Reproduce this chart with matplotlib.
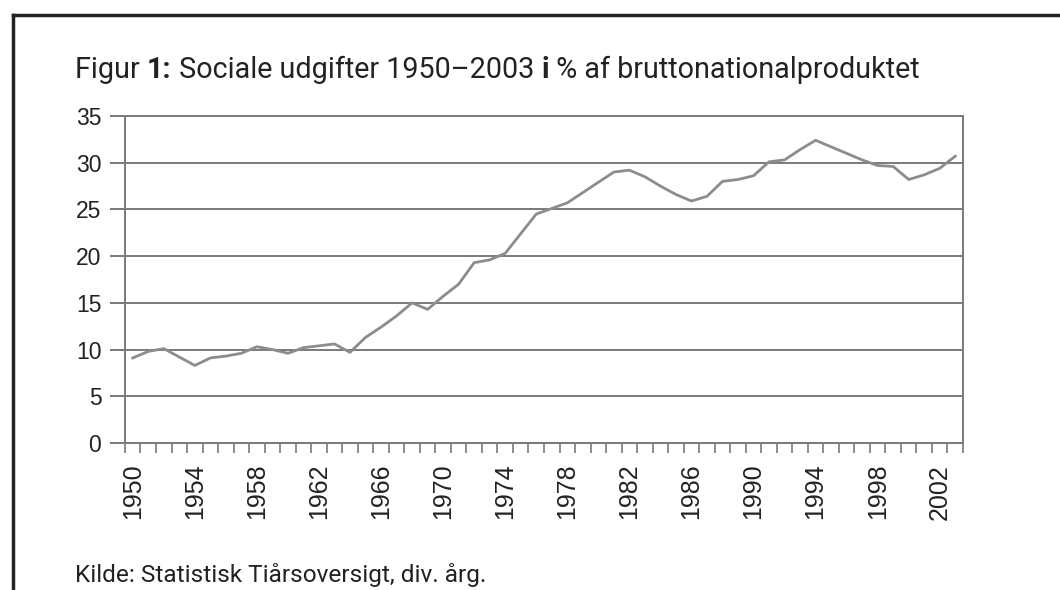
import matplotlib
matplotlib.use("Agg")
import matplotlib.pyplot as plt
from matplotlib.lines import Line2D
from matplotlib.ticker import FixedLocator

# Sociale udgifter i % af BNP
years = list(range(1950, 2004))
values = [
    9.1, 9.8, 10.1, 9.2, 8.3, 9.1, 9.3, 9.6, 10.3, 10.0,   # 1950-1959
    9.6, 10.2, 10.4, 10.6, 9.7, 11.3, 12.4, 13.6, 15.0, 14.3,  # 1960-1969
    15.7, 17.0, 19.3, 19.6, 20.3, 22.4, 24.5, 25.1, 25.7, 26.8,  # 1970-1979
    27.9, 29.0, 29.2, 28.5, 27.5, 26.6, 25.9, 26.4, 28.0, 28.2,  # 1980-1989
    28.6, 30.1, 30.3, 31.4, 32.4, 31.7, 31.0, 30.3, 29.7, 29.6,  # 1990-1999
    28.2, 28.7, 29.4, 30.7,                                      # 2000-2003
]
label_years = list(range(1950, 2003, 4))
y_ticks = [0, 5, 10, 15, 20, 25, 30, 35]

# titel i stykker: (tekst, fed?)
title_parts = [
    ("Figur ", False),
    ("1:", True),
    (" Sociale udgifter 1950\u20132003 ", False),
    ("i", True),
    (" % af bruttonationalproduktet", False),
]
source = "Kilde: Statistisk Tiårsoversigt, div. årg."

font = ["Roboto", "DejaVu Sans"]
grey = "#7a7a7a"
ink = "#222222"

fig = plt.figure(figsize=(10.6, 5.9), dpi=100)
ax = fig.add_axes([0.1179, 0.2492, 0.7906, 0.5542])

ax.plot(years, values, color="#8c8c8c", lw=2.0, zorder=3)

ax.set_xlim(1949.5, 2003.5)
ax.set_ylim(0, 35)

ax.set_yticks(y_ticks)
ax.yaxis.grid(True, color=grey, lw=1.4)
ax.set_axisbelow(True)

ax.set_xticks(label_years)
ax.set_xticklabels([str(y) for y in label_years], rotation=90,
                   family=["Liberation Sans", "DejaVu Sans"], fontsize=18, color=ink)
ax.xaxis.set_minor_locator(FixedLocator([y - 0.5 for y in range(1950, 2005)]))
ax.tick_params(axis="x", which="major", length=0, pad=15)
ax.tick_params(axis="x", which="minor", length=7, width=1.2, color=grey)
ax.tick_params(axis="y", length=11, width=1.4, color=grey, pad=6,
               labelsize=16.5, labelcolor=ink)
for lab in ax.get_yticklabels():
    lab.set_family(["Liberation Sans", "DejaVu Sans"])

for s in ax.spines.values():
    s.set_color(grey)
    s.set_linewidth(1.4)

# titel tegnes stykke for stykke
renderer = fig.canvas.get_renderer()
x = 0.071
for txt, bold in title_parts:
    t = fig.text(x, 0.881, txt, family=font, fontsize=20.7, color=ink,
                 weight="bold" if bold else "normal", va="center", ha="left")
    bb = t.get_window_extent(renderer)
    x += bb.width / fig.bbox.width

fig.text(0.071, 0.025, source, family=font, fontsize=17.6, color=ink,
         va="center", ha="left")

# ramme fra den scannede side
fig.add_artist(Line2D([0.012, 1.0], [0.975, 0.975], transform=fig.transFigure,
                      color=ink, lw=2.5))
fig.add_artist(Line2D([0.012, 0.012], [0.0, 0.975], transform=fig.transFigure,
                      color=ink, lw=2.5))

fig.savefig("out.png", dpi=100, facecolor="white")
